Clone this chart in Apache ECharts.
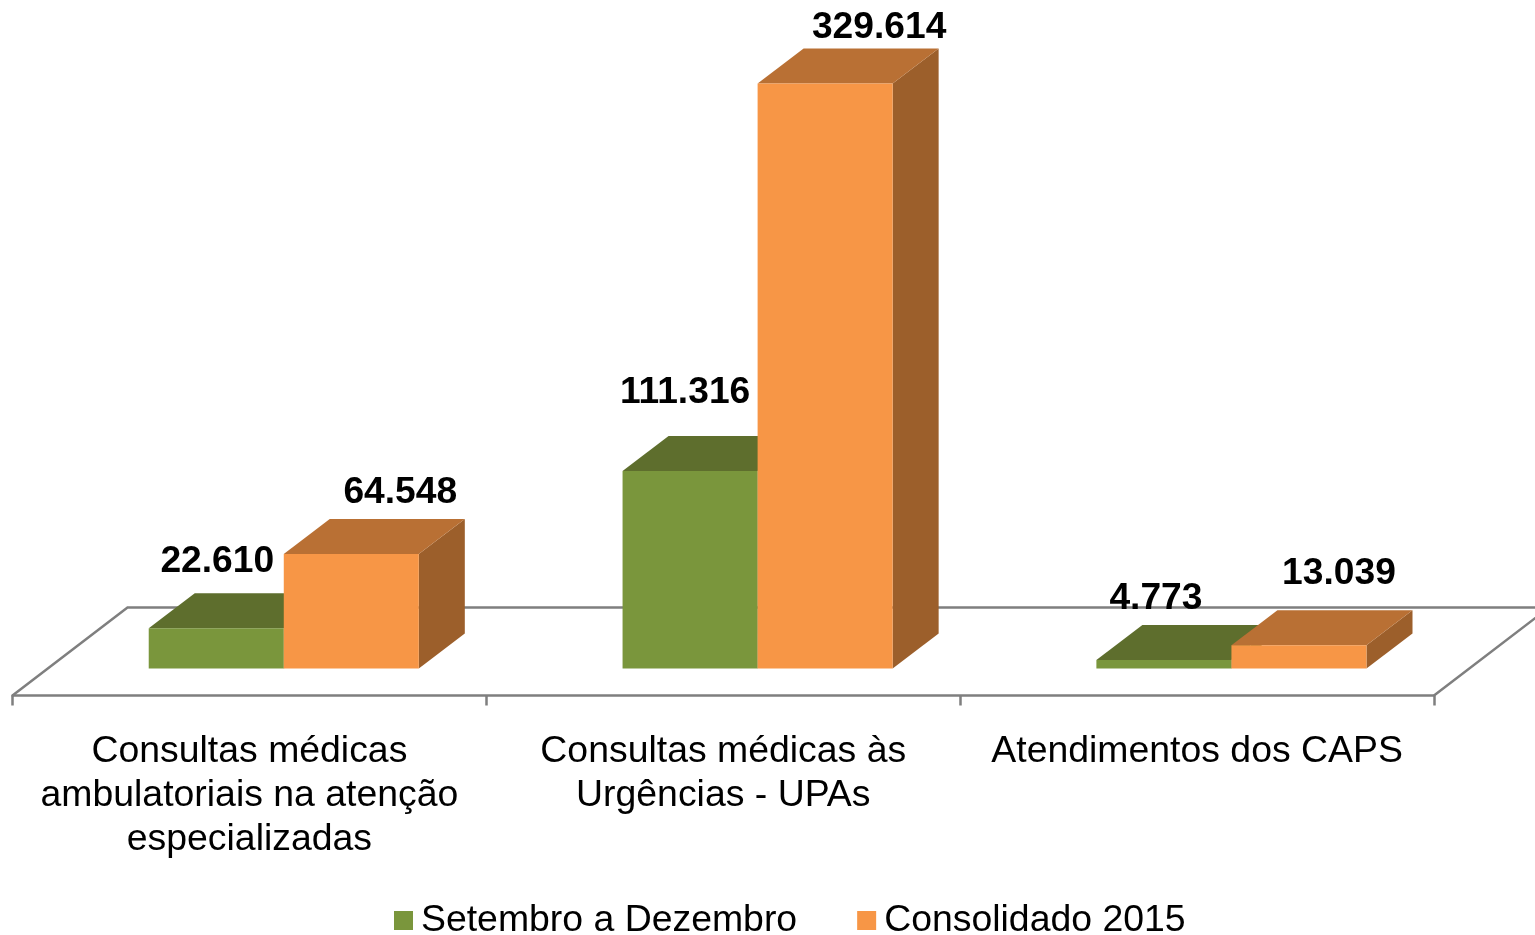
<!DOCTYPE html>
<html>
<head>
<meta charset="utf-8">
<title>Consultas e atendimentos</title>
<script src="https://cdn.jsdelivr.net/npm/echarts@6/dist/echarts.min.js"></script>
<style>
  html, body { margin: 0; padding: 0; background: #fff; }
  #main { width: 1535px; height: 935px; }
</style>
</head>
<body>
<div id="main"></div>
<script>
var categories = [
  "Consultas médicas\nambulatoriais na atenção\nespecializadas",
  "Consultas médicas às\nUrgências - UPAs",
  "Atendimentos dos CAPS"
];
var setembroDezembro = [22610, 111316, 4773];
var consolidado2015 = [64548, 329614, 13039];

// deslocamento dos rotulos em relacao a frente da barra
var labelShiftSet = [[1, -67], [-5, -78], [-8, -61]];
var labelShiftCons = [[49, -61], [54, -55.5], [40, -72]];

var FONT = '"Liberation Sans", Arial, sans-serif';
var LINE = "#7f7f7f";
var DEPTH_X = 46, DEPTH_Y = 35;

function fmt(v) {
  return String(v).replace(/\B(?=(\d{3})+$)/g, ".");
}

// barra 3D: frente, topo e lateral
function bar3d(side, colors, shifts) {
  return function (params, api) {
    var idx = api.value(0);
    var val = api.value(1);
    var top = api.coord([idx, val]);
    var base = api.coord([idx, 0]);
    var band = api.size([1, 0])[0];
    var w = band * 0.285;
    var center = top[0] + band * 0.0725;
    var x0 = side === 0 ? center - w : center;
    var x1 = x0 + w;
    var y0 = top[1], y1 = base[1];
    var s = shifts[params.dataIndex];
    return {
      type: "group",
      children: [
        { type: "polygon", shape: { points: [[x1, y0], [x1 + DEPTH_X, y0 - DEPTH_Y], [x1 + DEPTH_X, y1 - DEPTH_Y], [x1, y1]] }, style: { fill: colors.side } },
        { type: "polygon", shape: { points: [[x0, y0], [x0 + DEPTH_X, y0 - DEPTH_Y], [x1 + DEPTH_X, y0 - DEPTH_Y], [x1, y0]] }, style: { fill: colors.top } },
        { type: "rect", shape: { x: x0, y: y0, width: w, height: y1 - y0 }, style: { fill: colors.front } },
        {
          type: "text",
          z2: 100,
          style: {
            x: (x0 + x1) / 2 + s[0],
            y: y0 + s[1],
            text: fmt(val),
            fill: "#000",
            font: "bold 37.2px " + FONT,
            textAlign: "center",
            textVerticalAlign: "middle"
          }
        }
      ]
    };
  };
}

// chao do grafico em perspectiva
function floor(params, api) {
  var c = params.coordSys;
  var yFront = c.y + c.height;
  var yBack = yFront - 88;
  var left = c.x, right = c.x + c.width;
  return {
    type: "polyline",
    shape: { points: [[left, yFront], [left + 115, yBack], [right + 115, yBack], [right, yFront]] },
    style: { fill: null, stroke: LINE, lineWidth: 2.5 }
  };
}

var myChart = echarts.init(document.getElementById("main"));
myChart.setOption({
  animation: false,
  color: ["#7a963c", "#f79646"],
  grid: { left: 12.5, right: 101, top: 83.5, bottom: 239.5 },
  legend: {
    left: 394,
    top: 902,
    padding: 0,
    icon: "rect",
    itemWidth: 19,
    itemHeight: 19,
    itemGap: 60,
    textStyle: { fontFamily: FONT, fontSize: 37.4, color: "#000", padding: [0, 0, 0, 3] },
    data: ["Setembro a Dezembro", "Consolidado 2015"]
  },
  xAxis: {
    type: "category",
    data: categories,
    axisLine: { onZero: false, lineStyle: { color: LINE, width: 2.5 } },
    axisTick: { show: true, alignWithLabel: false, length: 10, lineStyle: { color: LINE, width: 2.5 } },
    axisLabel: { interval: 0, margin: 34, fontFamily: FONT, fontSize: 37.4, lineHeight: 44, color: "#000" }
  },
  yAxis: {
    type: "value",
    show: false,
    min: -15213,
    max: 329614
  },
  series: [
    {
      name: "floor",
      type: "custom",
      z: 1,
      silent: true,
      clip: false,
      renderItem: floor,
      data: [[0, 0]]
    },
    {
      name: "Setembro a Dezembro",
      type: "custom",
      z: 2,
      itemStyle: { color: "#7a963c" },
      renderItem: bar3d(0, { front: "#7a963c", top: "#5e6e2d", side: "#5e6e2d" }, labelShiftSet),
      encode: { x: 0, y: 1 },
      data: setembroDezembro.map(function (v, i) { return [i, v]; })
    },
    {
      name: "Consolidado 2015",
      type: "custom",
      z: 3,
      itemStyle: { color: "#f79646" },
      renderItem: bar3d(1, { front: "#f79646", top: "#b97034", side: "#9c5f2b" }, labelShiftCons),
      encode: { x: 0, y: 1 },
      data: consolidado2015.map(function (v, i) { return [i, v]; })
    }
  ]
});
</script>
</body>
</html>
